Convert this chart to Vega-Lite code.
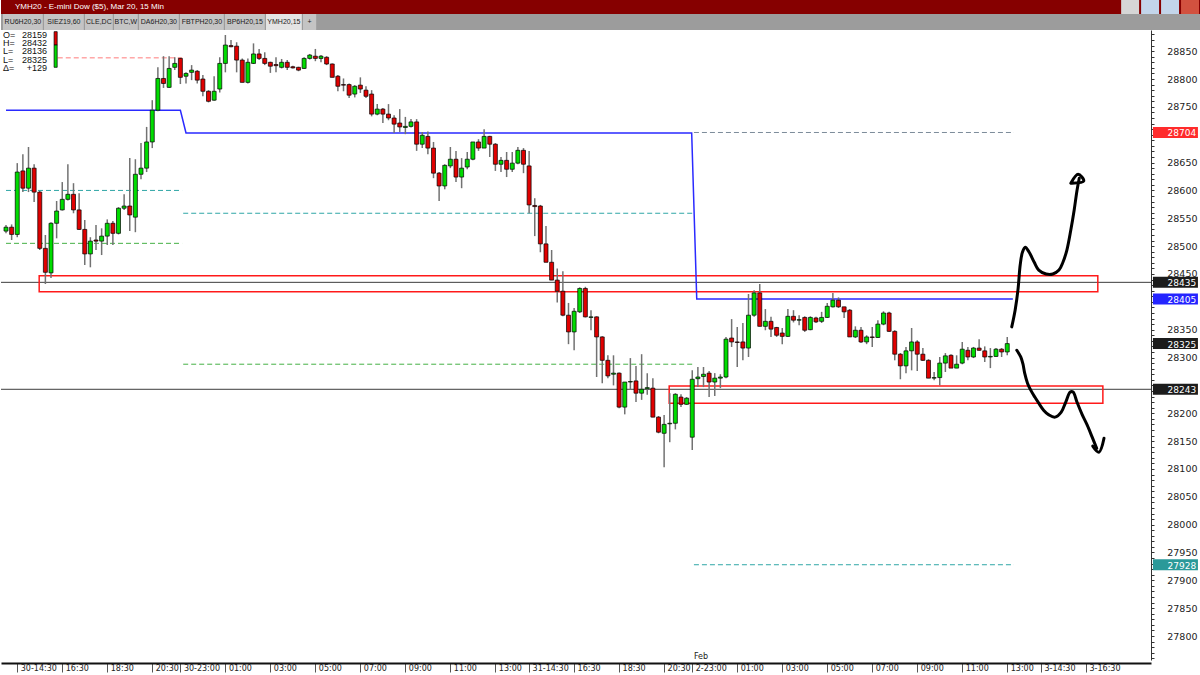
{
"$schema": "https://vega.github.io/schema/vega-lite/v6.json",
"padding": 0,
"spacing": 0,
"bounds": "flush",
"background": "#ffffff",
"config": {"view": {"stroke": null}, "font": "Liberation Sans", "concat": {"spacing": 0}},
"datasets": {
"candles": [
{"i":0,"o":28527,"h":28538,"l":28523,"c":28534},{"i":1,"o":28534,"h":28539,"l":28511,"c":28521},{"i":2,"o":28521,"h":28649,"l":28516,"c":28633},{"i":3,"o":28635,"h":28665,"l":28597,"c":28604},{"i":4,"o":28604,"h":28678,"l":28597,"c":28640},{"i":5,"o":28640,"h":28647,"l":28579,"c":28597},{"i":6,"o":28597,"h":28599,"l":28493,"c":28496},{"i":7,"o":28496,"h":28520,"l":28432,"c":28453},{"i":8,"o":28452,"h":28543,"l":28443,"c":28541},{"i":9,"o":28541,"h":28581,"l":28514,"c":28563},
{"i":10,"o":28565,"h":28615,"l":28564,"c":28584},{"i":11,"o":28584,"h":28647,"l":28582,"c":28593},{"i":12,"o":28593,"h":28613,"l":28559,"c":28565},{"i":13,"o":28565,"h":28595,"l":28529,"c":28530},{"i":14,"o":28530,"h":28547,"l":28466,"c":28486},{"i":15,"o":28486,"h":28516,"l":28462,"c":28509},{"i":16,"o":28511,"h":28538,"l":28493,"c":28509},{"i":17,"o":28509,"h":28532,"l":28484,"c":28518},{"i":18,"o":28518,"h":28548,"l":28502,"c":28541},{"i":19,"o":28541,"h":28545,"l":28502,"c":28523},
{"i":20,"o":28523,"h":28570,"l":28521,"c":28568},{"i":21,"o":28568,"h":28593,"l":28565,"c":28572},{"i":22,"o":28572,"h":28658,"l":28527,"c":28556},{"i":23,"o":28552,"h":28656,"l":28525,"c":28629},{"i":24,"o":28629,"h":28685,"l":28620,"c":28640},{"i":25,"o":28640,"h":28714,"l":28633,"c":28687},{"i":26,"o":28687,"h":28762,"l":28676,"c":28744},{"i":27,"o":28744,"h":28821,"l":28742,"c":28801},{"i":28,"o":28801,"h":28841,"l":28784,"c":28792},{"i":29,"o":28785,"h":28841,"l":28784,"c":28819},
{"i":30,"o":28821,"h":28839,"l":28816,"c":28828},{"i":31,"o":28837,"h":28838,"l":28791,"c":28803},{"i":32,"o":28805,"h":28812,"l":28792,"c":28810},{"i":33,"o":28812,"h":28825,"l":28798,"c":28816},{"i":34,"o":28814,"h":28816,"l":28792,"c":28798},{"i":35,"o":28800,"h":28807,"l":28769,"c":28778},{"i":36,"o":28778,"h":28780,"l":28758,"c":28760},{"i":37,"o":28762,"h":28805,"l":28761,"c":28778},{"i":38,"o":28782,"h":28839,"l":28776,"c":28828},{"i":39,"o":28828,"h":28879,"l":28812,"c":28861},
{"i":40,"o":28860,"h":28870,"l":28857,"c":28858},{"i":41,"o":28859,"h":28866,"l":28812,"c":28834},{"i":42,"o":28834,"h":28837,"l":28794,"c":28794},{"i":43,"o":28794,"h":28837,"l":28792,"c":28830},{"i":44,"o":28828,"h":28864,"l":28827,"c":28845},{"i":45,"o":28845,"h":28854,"l":28834,"c":28837},{"i":46,"o":28837,"h":28848,"l":28825,"c":28828},{"i":47,"o":28830,"h":28831,"l":28811,"c":28823},{"i":48,"o":28826,"h":28839,"l":28812,"c":28824},{"i":49,"o":28821,"h":28836,"l":28819,"c":28830},
{"i":50,"o":28830,"h":28834,"l":28816,"c":28821},{"i":51,"o":28822,"h":28824,"l":28819,"c":28820},{"i":52,"o":28821,"h":28822,"l":28814,"c":28816},{"i":53,"o":28819,"h":28839,"l":28818,"c":28837},{"i":54,"o":28837,"h":28845,"l":28835,"c":28843},{"i":55,"o":28841,"h":28854,"l":28832,"c":28837},{"i":56,"o":28837,"h":28843,"l":28830,"c":28841},{"i":57,"o":28839,"h":28841,"l":28825,"c":28827},{"i":58,"o":28827,"h":28828,"l":28803,"c":28803},{"i":59,"o":28805,"h":28807,"l":28778,"c":28787},
{"i":60,"o":28790,"h":28801,"l":28778,"c":28789},{"i":61,"o":28790,"h":28792,"l":28766,"c":28771},{"i":62,"o":28773,"h":28789,"l":28767,"c":28787},{"i":63,"o":28789,"h":28803,"l":28775,"c":28782},{"i":64,"o":28780,"h":28787,"l":28766,"c":28769},{"i":65,"o":28773,"h":28780,"l":28733,"c":28737},{"i":66,"o":28737,"h":28755,"l":28735,"c":28746},{"i":67,"o":28746,"h":28748,"l":28721,"c":28737},{"i":68,"o":28737,"h":28755,"l":28726,"c":28730},{"i":69,"o":28730,"h":28735,"l":28703,"c":28719},
{"i":70,"o":28721,"h":28746,"l":28705,"c":28714},{"i":71,"o":28713,"h":28732,"l":28701,"c":28715},{"i":72,"o":28715,"h":28728,"l":28713,"c":28723},{"i":73,"o":28723,"h":28728,"l":28671,"c":28683},{"i":74,"o":28683,"h":28705,"l":28676,"c":28699},{"i":75,"o":28697,"h":28706,"l":28665,"c":28676},{"i":76,"o":28676,"h":28687,"l":28622,"c":28631},{"i":77,"o":28631,"h":28633,"l":28581,"c":28608},{"i":78,"o":28608,"h":28647,"l":28602,"c":28645},{"i":79,"o":28644,"h":28678,"l":28640,"c":28656},
{"i":80,"o":28656,"h":28671,"l":28615,"c":28624},{"i":81,"o":28624,"h":28658,"l":28604,"c":28640},{"i":82,"o":28642,"h":28669,"l":28638,"c":28656},{"i":83,"o":28656,"h":28687,"l":28654,"c":28687},{"i":84,"o":28687,"h":28692,"l":28671,"c":28676},{"i":85,"o":28676,"h":28710,"l":28676,"c":28697},{"i":86,"o":28697,"h":28698,"l":28660,"c":28683},{"i":87,"o":28683,"h":28685,"l":28635,"c":28647},{"i":88,"o":28647,"h":28660,"l":28633,"c":28654},{"i":89,"o":28654,"h":28669,"l":28624,"c":28638},
{"i":90,"o":28638,"h":28669,"l":28633,"c":28649},{"i":91,"o":28649,"h":28678,"l":28647,"c":28672},{"i":92,"o":28672,"h":28676,"l":28631,"c":28647},{"i":93,"o":28644,"h":28671,"l":28559,"c":28574},{"i":94,"o":28573,"h":28586,"l":28518,"c":28571},{"i":95,"o":28572,"h":28574,"l":28489,"c":28504},{"i":96,"o":28504,"h":28536,"l":28471,"c":28471},{"i":97,"o":28471,"h":28493,"l":28439,"c":28439},{"i":98,"o":28439,"h":28460,"l":28399,"c":28419},{"i":99,"o":28419,"h":28455,"l":28374,"c":28376},
{"i":100,"o":28376,"h":28398,"l":28324,"c":28346},{"i":101,"o":28346,"h":28389,"l":28313,"c":28383},{"i":102,"o":28382,"h":28426,"l":28380,"c":28424},{"i":103,"o":28424,"h":28427,"l":28372,"c":28373},{"i":104,"o":28372,"h":28385,"l":28349,"c":28373},{"i":105,"o":28373,"h":28374,"l":28265,"c":28337},{"i":106,"o":28337,"h":28338,"l":28254,"c":28295},{"i":107,"o":28295,"h":28304,"l":28263,"c":28267},{"i":108,"o":28270,"h":28304,"l":28250,"c":28272},{"i":109,"o":28272,"h":28273,"l":28209,"c":28211},
{"i":110,"o":28211,"h":28256,"l":28198,"c":28256},{"i":111,"o":28256,"h":28299,"l":28242,"c":28257},{"i":112,"o":28258,"h":28285,"l":28220,"c":28236},{"i":113,"o":28236,"h":28306,"l":28224,"c":28243},{"i":114,"o":28244,"h":28272,"l":28233,"c":28246},{"i":115,"o":28245,"h":28263,"l":28193,"c":28193},{"i":116,"o":28193,"h":28195,"l":28164,"c":28166},{"i":117,"o":28164,"h":28197,"l":28103,"c":28180},{"i":118,"o":28181,"h":28236,"l":28148,"c":28182},{"i":119,"o":28182,"h":28236,"l":28171,"c":28234},
{"i":120,"o":28229,"h":28234,"l":28211,"c":28216},{"i":121,"o":28216,"h":28229,"l":28215,"c":28227},{"i":122,"o":28157,"h":28277,"l":28134,"c":28261},{"i":123,"o":28262,"h":28283,"l":28247,"c":28265},{"i":124,"o":28266,"h":28283,"l":28247,"c":28270},{"i":125,"o":28272,"h":28276,"l":28229,"c":28256},{"i":126,"o":28256,"h":28272,"l":28231,"c":28263},{"i":127,"o":28263,"h":28270,"l":28245,"c":28265},{"i":128,"o":28265,"h":28337,"l":28263,"c":28333},{"i":129,"o":28335,"h":28369,"l":28319,"c":28328},
{"i":130,"o":28328,"h":28355,"l":28283,"c":28327},{"i":131,"o":28328,"h":28362,"l":28295,"c":28317},{"i":132,"o":28317,"h":28414,"l":28301,"c":28376},{"i":133,"o":28376,"h":28421,"l":28373,"c":28416},{"i":134,"o":28416,"h":28432,"l":28356,"c":28356},{"i":135,"o":28356,"h":28387,"l":28349,"c":28365},{"i":136,"o":28365,"h":28373,"l":28337,"c":28351},{"i":137,"o":28354,"h":28355,"l":28337,"c":28340},{"i":138,"o":28344,"h":28353,"l":28324,"c":28338},{"i":139,"o":28338,"h":28387,"l":28337,"c":28374},
{"i":140,"o":28374,"h":28385,"l":28363,"c":28367},{"i":141,"o":28367,"h":28376,"l":28358,"c":28368},{"i":142,"o":28372,"h":28374,"l":28346,"c":28349},{"i":143,"o":28350,"h":28374,"l":28349,"c":28372},{"i":144,"o":28371,"h":28373,"l":28362,"c":28364},{"i":145,"o":28365,"h":28382,"l":28362,"c":28372},{"i":146,"o":28372,"h":28398,"l":28371,"c":28392},{"i":147,"o":28391,"h":28416,"l":28390,"c":28403},{"i":148,"o":28403,"h":28408,"l":28389,"c":28391},{"i":149,"o":28391,"h":28391,"l":28371,"c":28382},
{"i":150,"o":28385,"h":28387,"l":28337,"c":28337},{"i":151,"o":28337,"h":28356,"l":28335,"c":28349},{"i":152,"o":28349,"h":28355,"l":28326,"c":28328},{"i":153,"o":28328,"h":28340,"l":28324,"c":28337},{"i":154,"o":28337,"h":28355,"l":28319,"c":28336},{"i":155,"o":28336,"h":28367,"l":28335,"c":28360},{"i":156,"o":28360,"h":28383,"l":28358,"c":28380},{"i":157,"o":28380,"h":28382,"l":28346,"c":28347},{"i":158,"o":28347,"h":28349,"l":28295,"c":28306},{"i":159,"o":28306,"h":28308,"l":28261,"c":28285},
{"i":160,"o":28285,"h":28319,"l":28272,"c":28312},{"i":161,"o":28312,"h":28353,"l":28277,"c":28328},{"i":162,"o":28328,"h":28331,"l":28276,"c":28306},{"i":163,"o":28306,"h":28317,"l":28294,"c":28295},{"i":164,"o":28295,"h":28297,"l":28263,"c":28263},{"i":165,"o":28263,"h":28274,"l":28259,"c":28264},{"i":166,"o":28264,"h":28301,"l":28250,"c":28290},{"i":167,"o":28290,"h":28308,"l":28274,"c":28303},{"i":168,"o":28304,"h":28306,"l":28281,"c":28281},{"i":169,"o":28281,"h":28304,"l":28281,"c":28288},
{"i":170,"o":28290,"h":28328,"l":28288,"c":28315},{"i":171,"o":28313,"h":28319,"l":28295,"c":28301},{"i":172,"o":28301,"h":28319,"l":28299,"c":28317},{"i":173,"o":28317,"h":28333,"l":28312,"c":28313},{"i":174,"o":28312,"h":28320,"l":28292,"c":28301},{"i":175,"o":28301,"h":28317,"l":28281,"c":28302},{"i":176,"o":28302,"h":28317,"l":28301,"c":28315},{"i":177,"o":28315,"h":28317,"l":28301,"c":28310},{"i":178,"o":28310,"h":28337,"l":28304,"c":28325}
],
"levels": [
{"a":9.2,"b":31.3,"p":28838,"k":"red"},
{"a":0,"b":31.3,"p":28600,"k":"teal"},
{"a":0,"b":31.3,"p":28505,"k":"green"},
{"a":31.5,"b":122.1,"p":28559,"k":"teal"},
{"a":31.5,"b":122.1,"p":28288,"k":"green"},
{"a":122.3,"b":179.2,"p":28704,"k":"grey"},
{"a":122.3,"b":179.2,"p":27928,"k":"teal"},
{"a":-0.889,"b":203.556,"p":28435,"k":"black"},
{"a":-0.889,"b":203.556,"p":28243,"k":"black"}
],
"blue": [
{"n":0,"i":0,"p":28744},{"n":1,"i":31,"p":28744},{"n":2,"i":32,"p":28703},{"n":3,"i":121.9,"p":28703},{"n":4,"i":122.8,"p":28405},{"n":5,"i":179,"p":28405}
],
"boxes": [
{"a":5.9,"b":194.1,"p1":28418,"p2":28447},
{"a":117.9,"b":195.0,"p1":28218,"p2":28249}
],
"tags": [
{"p":28704,"k":"red"},{"p":28435,"k":"black"},{"p":28405,"k":"blue"},{"p":28325,"k":"black"},{"p":28243,"k":"black"},{"p":27928,"k":"teal"}
],
"pen": [
{"g":"up","n":0,"i":178.8,"p":28355},{"g":"up","n":1,"i":179.4,"p":28385},{"g":"up","n":2,"i":179.9,"p":28421},{"g":"up","n":3,"i":180.3,"p":28466},{"g":"up","n":4,"i":180.7,"p":28489},{"g":"up","n":5,"i":181.2,"p":28498},{"g":"up","n":6,"i":181.9,"p":28489},{"g":"up","n":7,"i":182.8,"p":28471},{"g":"up","n":8,"i":183.6,"p":28457},{"g":"up","n":9,"i":184.9,"p":28450},{"g":"up","n":10,"i":186.1,"p":28450},{"g":"up","n":11,"i":187.2,"p":28457},{"g":"up","n":12,"i":187.9,"p":28471},{"g":"up","n":13,"i":188.6,"p":28493},{"g":"up","n":14,"i":189.3,"p":28529},{"g":"up","n":15,"i":189.9,"p":28565},{"g":"up","n":16,"i":190.4,"p":28600},{"g":"up","n":17,"i":190.8,"p":28622},
{"g":"upA","n":0,"i":189.3,"p":28613},{"g":"upA","n":1,"i":190.6,"p":28629},{"g":"upA","n":2,"i":191.6,"p":28617},{"g":"upA","n":3,"i":189.5,"p":28613},
{"g":"dn","n":0,"i":179.7,"p":28313},{"g":"dn","n":1,"i":180.4,"p":28301},{"g":"dn","n":2,"i":180.8,"p":28288},{"g":"dn","n":3,"i":181.1,"p":28272},{"g":"dn","n":4,"i":181.6,"p":28254},{"g":"dn","n":5,"i":182.2,"p":28241},{"g":"dn","n":6,"i":182.9,"p":28229},{"g":"dn","n":7,"i":183.6,"p":28218},{"g":"dn","n":8,"i":184.5,"p":28205},{"g":"dn","n":9,"i":185.4,"p":28197},{"g":"dn","n":10,"i":186.5,"p":28193},{"g":"dn","n":11,"i":187.6,"p":28202},{"g":"dn","n":12,"i":188.4,"p":28220},{"g":"dn","n":13,"i":189.2,"p":28238},{"g":"dn","n":14,"i":189.7,"p":28238},{"g":"dn","n":15,"i":190.4,"p":28220},{"g":"dn","n":16,"i":191.3,"p":28198},{"g":"dn","n":17,"i":192.2,"p":28179},{"g":"dn","n":18,"i":193.1,"p":28157},{"g":"dn","n":19,"i":193.9,"p":28137},
{"g":"dnA","n":0,"i":193.2,"p":28141},{"g":"dnA","n":1,"i":194.3,"p":28130},{"g":"dnA","n":2,"i":195.2,"p":28155}
]
},
"vconcat": [
{
"width": 1200, "height": 14,
"view": {"fill": "#860000", "stroke": null},
"layer": [
{"data": {"values": [{"t": "YMH20 - E-mini Dow ($5), Mar 20, 15 Min"}]},
 "mark": {"type": "text", "align": "left", "baseline": "middle", "dx": 14, "color": "#ffffff", "fontSize": 8},
 "encoding": {"x": {"datum": 0, "type": "quantitative", "scale": {"domain": [0, 1]}, "axis": null}, "text": {"field": "t"}}},
{"data": {"values": [{"b": "pin"}, {"b": "min"}, {"b": "restore"}, {"b": "close"}]},
 "mark": {"type": "rect"},
 "encoding": {"x": {"field": "b", "type": "nominal", "axis": null, "scale": {"paddingInner": 0.1, "paddingOuter": 0.1, "domain": ["d0","d1","d2","d3","d4","d5","d6","d7","d8","d9","d10","d11","d12","d13","d14","d15","d16","d17","d18","d19","d20","d21","d22","d23","d24","d25","d26","d27","d28","d29","d30","d31","d32","d33","d34","d35","d36","d37","d38","d39","d40","d41","d42","d43","d44","d45","d46","d47","d48","d49","d50","d51","d52","d53","d54","d55","pin","min","restore","close"]}},
  "color": {"field": "b", "type": "nominal", "scale": {"domain": ["pin", "min", "restore", "close"], "range": ["#d6d6d6", "#c3d5ea", "#c3d5ea", "#d2513f"]}, "legend": null}}}
],
"resolve": {"scale": {"x": "independent", "color": "independent"}}
},
{
"width": 1200, "height": 16,
"view": {"fill": "#9c9c9c", "stroke": null},
"data": {"values": [{"tab": "RU6H20,30"}, {"tab": "SIEZ19,60"}, {"tab": "CLE,DC"}, {"tab": "BTC,W"}, {"tab": "DA6H20,30"}, {"tab": "FBTPH20,30"}, {"tab": "BP6H20,15"}, {"tab": "YMH20,15"}, {"tab": "+"}]},
"transform": [
 {"calculate": "length(datum.tab) + (datum.tab === '+' ? 2.6 : 1.25)", "as": "w"},
 {"window": [{"op": "sum", "field": "w", "as": "e"}], "frame": [null, 0]},
 {"calculate": "datum.e - datum.w + 0.5", "as": "s"},
 {"calculate": "datum.e + 0.2", "as": "e2"},
 {"calculate": "(datum.s + datum.e2) / 2", "as": "m"}
],
"layer": [
{"mark": {"type": "rect"},
 "encoding": {
  "x": {"field": "s", "type": "quantitative", "scale": {"domain": [0, 300], "nice": false, "zero": false}, "axis": null},
  "x2": {"field": "e2"},
  "color": {"condition": {"test": "datum.tab === 'YMH20,15'", "value": "#e4e4e4"}, "value": "#c4c4c4"}}},
{"mark": {"type": "text", "fontSize": 7, "color": "#222222"},
 "encoding": {
  "x": {"field": "m", "type": "quantitative", "scale": {"domain": [0, 300], "nice": false, "zero": false}, "axis": null},
  "text": {"field": "tab"}}}
]
},
{
"width": 1150, "height": 630,
"encoding": {
 "x": {"type": "quantitative", "scale": {"domain": [-0.889, 203.556], "nice": false, "zero": false, "padding": 0},
   "axis": {"title": null, "orient": "bottom", "offset": 3, "domainColor": "#111111", "domainWidth": 2, "tickColor": "#555555", "tickSize": 9, "tickWidth": 1,
    "values": [2, 10, 18, 26, 31, 39, 47, 55, 63, 71, 79, 87, 93, 101, 109, 117, 122, 130, 138, 146, 154, 162, 170, 178, 184, 192],
    "labelExpr": "['30-14:30','16:30','18:30','20:30','30-23:00','01:00','03:00','05:00','07:00','09:00','11:00','13:00','31-14:30','16:30','18:30','20:30','2-23:00','01:00','03:00','05:00','07:00','09:00','11:00','13:00','3-14:30','3-16:30'][indexof([2,10,18,26,31,39,47,55,63,71,79,87,93,101,109,117,122,130,138,146,154,162,170,178,184,192], datum.value)]",
    "labelAlign": "left", "labelBaseline": "middle", "labelPadding": -4, "labelOffset": 3, "labelFont": "DejaVu Sans", "labelFontSize": 8, "labelColor": "#222222", "labelOverlap": false, "labelBound": false, "labelFlush": false, "grid": false}},
 "y": {"type": "quantitative", "scale": {"domain": [27757, 28888], "nice": false, "zero": false, "padding": 0},
   "axis": {"title": null, "orient": "right", "format": "d", "domainColor": "#333333", "tickColor": "#333333", "tickSize": 3, "grid": false,
    "values": [27760,27770,27780,27790,27800,27810,27820,27830,27840,27850,27860,27870,27880,27890,27900,27910,27920,27930,27940,27950,27960,27970,27980,27990,28000,28010,28020,28030,28040,28050,28060,28070,28080,28090,28100,28110,28120,28130,28140,28150,28160,28170,28180,28190,28200,28210,28220,28230,28240,28250,28260,28270,28280,28290,28300,28310,28320,28330,28340,28350,28360,28370,28380,28390,28400,28410,28420,28430,28440,28450,28460,28470,28480,28490,28500,28510,28520,28530,28540,28550,28560,28570,28580,28590,28600,28610,28620,28630,28640,28650,28660,28670,28680,28690,28700,28710,28720,28730,28740,28750,28760,28770,28780,28790,28800,28810,28820,28830,28840,28850,28860,28870,28880],
    "labelExpr": "datum.value % 50 == 0 && datum.value != 28700 && datum.value != 28400 && datum.value != 28250 ? datum.label : ''",
    "labelAlign": "right", "labelPadding": 43, "labelFont": "DejaVu Sans", "labelFontSize": 9.5, "labelColor": "#222222", "labelOverlap": false, "labelBound": false}}
},
"layer": [
{"data": {"name": "levels"},
 "mark": {"type": "rule", "strokeWidth": 1},
 "encoding": {
  "x": {"field": "a"}, "x2": {"field": "b"}, "y": {"field": "p"},
  "color": {"field": "k", "type": "nominal", "scale": {"domain": ["red", "teal", "green", "grey", "black"], "range": ["#ff7a7a", "#2fa6a6", "#45b045", "#7d8c9a", "#3c3c3c"]}, "legend": null},
  "strokeDash": {"field": "k", "type": "nominal", "scale": {"domain": ["red", "teal", "green", "grey", "black"], "range": [[5, 3], [5, 3], [5, 3], [5, 3], [1, 0]]}, "legend": null}
 }},
{"data": {"name": "boxes"},
 "mark": {"type": "rect", "fill": null, "fillOpacity": 0, "stroke": "#ff1a1a", "strokeWidth": 1.5},
 "encoding": {"x": {"field": "a"}, "x2": {"field": "b"}, "y": {"field": "p1"}, "y2": {"field": "p2"}}},
{"data": {"name": "blue"},
 "mark": {"type": "line", "color": "#2a2aff", "strokeWidth": 1.5},
 "encoding": {"x": {"field": "i"}, "y": {"field": "p"}, "order": {"field": "n", "type": "quantitative"}}},
{"data": {"name": "candles"},
 "mark": {"type": "rule", "color": "#727272", "strokeWidth": 1.5},
 "encoding": {"x": {"field": "i"}, "y": {"field": "l"}, "y2": {"field": "h"}}},
{"data": {"name": "candles"},
 "mark": {"type": "bar", "width": 4, "stroke": "#000000", "strokeWidth": 0.7},
 "encoding": {"x": {"field": "i"}, "y": {"field": "o"}, "y2": {"field": "c"},
  "color": {"condition": {"test": "datum.c >= datum.o", "value": "#00dc00"}, "value": "#e00000"}}},
{"data": {"name": "pen"},
 "mark": {"type": "line", "color": "#000000", "strokeWidth": 3, "interpolate": "catmull-rom", "strokeCap": "round", "strokeJoin": "round"},
 "encoding": {"x": {"field": "i"}, "y": {"field": "p"}, "detail": {"field": "g", "type": "nominal"}, "order": {"field": "n", "type": "quantitative"}}},
{"data": {"name": "tags"},
 "mark": {"type": "bar", "orient": "horizontal", "size": 11},
 "encoding": {"x": {"datum": 203.9}, "x2": {"datum": 211.9}, "y": {"field": "p"},
  "color": {"field": "k", "type": "nominal", "scale": {"domain": ["red", "black", "blue", "teal"], "range": ["#ff2b2b", "#1c1c1c", "#2424ff", "#2a9999"]}, "legend": null}}},
{"data": {"name": "tags"},
 "mark": {"type": "text", "align": "right", "baseline": "middle", "dy": 1, "font": "DejaVu Sans", "fontSize": 9, "color": "#ffffff"},
 "encoding": {"x": {"datum": 211.6}, "y": {"field": "p"}, "text": {"field": "p", "type": "quantitative", "format": "d"}}},
{"data": {"values": [{}]},
 "mark": {"type": "text", "text": ["O=", "H=", "L=", "L=", "Δ="], "align": "left", "baseline": "top", "fontSize": 9, "lineHeight": 8.4, "color": "#111111"},
 "encoding": {"x": {"datum": -0.55}, "y": {"datum": 28887}}},
{"data": {"values": [{}]},
 "mark": {"type": "text", "text": ["28159", "28432", "28136", "28325", "+129"], "align": "right", "baseline": "top", "fontSize": 9, "lineHeight": 8.4, "color": "#111111"},
 "encoding": {"x": {"datum": 7.3}, "y": {"datum": 28887}}},
{"data": {"values": [{}]},
 "mark": {"type": "rect", "color": "#e00000", "stroke": "#000000", "strokeWidth": 0.7},
 "encoding": {"x": {"datum": 8.55}, "x2": {"datum": 9.1}, "y": {"datum": 28861}, "y2": {"datum": 28885}}},
{"data": {"values": [{}]},
 "mark": {"type": "rect", "color": "#00dc00", "stroke": "#000000", "strokeWidth": 0.7},
 "encoding": {"x": {"datum": 8.55}, "x2": {"datum": 9.1}, "y": {"datum": 28821}, "y2": {"datum": 28861}}},
{"data": {"values": [{}]},
 "mark": {"type": "text", "text": "Feb", "align": "left", "baseline": "middle", "font": "DejaVu Sans", "fontSize": 8, "color": "#222222"},
 "encoding": {"x": {"datum": 122.3}, "y": {"datum": 27763}}}
],
"resolve": {"scale": {"color": "independent", "strokeDash": "independent"}}
}
]
}
